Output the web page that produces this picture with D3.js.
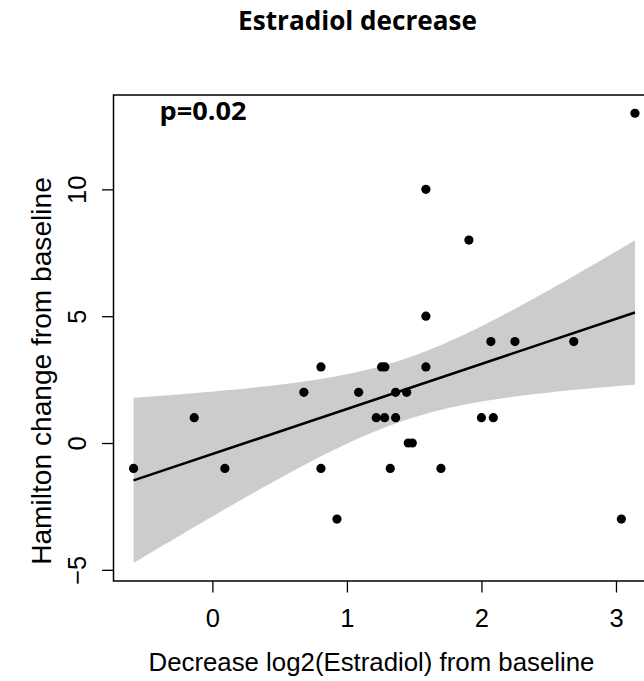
<!DOCTYPE html>
<html>
<head>
<meta charset="utf-8">
<script src="https://cdn.jsdelivr.net/npm/d3@7"></script>
<style>
  html, body { margin: 0; padding: 0; background: #fff; }
  svg { display: block; }
</style>
</head>
<body>
<svg id="chart" width="644" height="681"></svg>
<script>
// ---- data ----
const estradiolDecrease = [-0.586, -0.135, 0.093, 0.680, 0.807, 0.807, 0.926, 1.087, 1.258, 1.282,
  1.218, 1.280, 1.362, 1.362, 1.322, 1.444, 1.456, 1.486, 1.699, 1.587,
  1.587, 1.587, 1.907, 2.000, 2.088, 2.070, 2.249, 2.686, 3.040, 3.141];
const hamiltonChange = [-1, 1, -1, 2, 3, -1, -3, 2, 3, 3,
  1, 1, 2, 1, -1, 2, 0, 0, -1, 3,
  5, 10, 8, 1, 1, 4, 4, 4, -3, 13];
const xTicks = [0, 1, 2, 3];
const yTicks = [-5, 0, 5, 10];
const xDomain = [-0.735, 3.290];
const yDomain = [-5.44, 13.72];
const titleText = "Estradiol decrease";
const pText = "p=0.02";
const xLabel = "Decrease log2(Estradiol) from baseline";
const yLabel = "Hamilton change from baseline";
const tCrit = 2.048; // t(0.975, df = 28)

// ---- layout ----
const plot = { left: 113.5, right: 655, top: 95, bottom: 581 };
const svg = d3.select("#chart");
const x = d3.scaleLinear().domain(xDomain).range([plot.left, plot.right]);
const y = d3.scaleLinear().domain(yDomain).range([plot.bottom, plot.top]);

// ---- linear regression with 95% CI ----
const n = estradiolDecrease.length;
const mx = d3.mean(estradiolDecrease), my = d3.mean(hamiltonChange);
let sxx = 0, sxy = 0;
for (let i = 0; i < n; i++) {
  sxx += (estradiolDecrease[i] - mx) ** 2;
  sxy += (estradiolDecrease[i] - mx) * (hamiltonChange[i] - my);
}
const slope = sxy / sxx, intercept = my - slope * mx;
let sse = 0;
for (let i = 0; i < n; i++) sse += (hamiltonChange[i] - intercept - slope * estradiolDecrease[i]) ** 2;
const s = Math.sqrt(sse / (n - 2));
const [xmin, xmax] = d3.extent(estradiolDecrease);
const grid = d3.range(0, 101).map(k => xmin + (xmax - xmin) * k / 100);
const band = grid.map(v => {
  const fit = intercept + slope * v;
  const se = s * Math.sqrt(1 / n + (v - mx) ** 2 / sxx);
  return { x: v, fit, lo: fit - tCrit * se, hi: fit + tCrit * se };
});

svg.append("path")
  .datum(band)
  .attr("fill", "#cccccc")
  .attr("stroke", "none")
  .attr("d", d3.area().x(d => x(d.x)).y0(d => y(d.lo)).y1(d => y(d.hi)));

svg.append("path")
  .datum([band[0], band[band.length - 1]])
  .attr("fill", "none")
  .attr("stroke", "#000")
  .attr("stroke-width", 2.5)
  .attr("d", d3.line().x(d => x(d.x)).y(d => y(d.fit)));

// ---- points ----
svg.append("g").selectAll("circle")
  .data(estradiolDecrease.map((v, i) => [v, hamiltonChange[i]]))
  .join("circle")
  .attr("cx", d => x(d[0]))
  .attr("cy", d => y(d[1]))
  .attr("r", 4.6)
  .attr("fill", "#000");

// ---- box ----
svg.append("rect")
  .attr("x", plot.left).attr("y", plot.top)
  .attr("width", plot.right - plot.left).attr("height", plot.bottom - plot.top)
  .attr("fill", "none").attr("stroke", "#000").attr("stroke-width", 1.5);

// ---- axes ----
const axisFont = "'Liberation Sans', Arial, Helvetica, sans-serif";
const xAxis = svg.append("g")
  .attr("transform", `translate(0,${plot.bottom})`)
  .call(d3.axisBottom(x).tickValues(xTicks).tickSize(11.5).tickPadding(0).tickFormat(d3.format("d")));
xAxis.select(".domain").remove();
xAxis.selectAll(".tick line").attr("stroke", "#000").attr("stroke-width", 1.3);
xAxis.selectAll(".tick text").attr("y", 0).attr("dy", null)
  .attr("transform", "translate(0,46)")
  .attr("font-family", axisFont).attr("font-size", 25.5).attr("fill", "#000");

const yAxis = svg.append("g")
  .attr("transform", `translate(${plot.left},0)`)
  .call(d3.axisLeft(y).tickValues(yTicks).tickSize(11.5).tickPadding(0)
    .tickFormat(d => d < 0 ? "\u2212" + Math.abs(d) : String(d)));
yAxis.select(".domain").remove();
yAxis.selectAll(".tick line").attr("stroke", "#000").attr("stroke-width", 1.3);
yAxis.selectAll(".tick text")
  .attr("x", null).attr("dy", null)
  .attr("text-anchor", "middle")
  .attr("transform", `translate(${86 - plot.left},0) rotate(-90)`)
  .attr("y", 0)
  .attr("font-family", axisFont).attr("font-size", 25.5).attr("fill", "#000");

// ---- axis titles ----
svg.append("text")
  .attr("x", (147 + 596) / 2).attr("y", 671)
  .attr("text-anchor", "middle")
  .attr("font-family", axisFont).attr("font-size", 25.8).attr("fill", "#000")
  .text(xLabel);

const yl = svg.append("text")
  .attr("transform", `translate(51,${(177 + 565) / 2}) rotate(-90)`)
  .attr("text-anchor", "middle")
  .attr("font-family", axisFont).attr("font-size", 27).attr("fill", "#000")
  .text(yLabel);
{
  const w = yl.node().getComputedTextLength();
  yl.attr("font-size", 27 * 388 / w);
}

// ---- title and p-value (bold, Calibri-like: taller glyphs, narrower set) ----
function fitScaled(sel, cx, baseY, anchor, targetWidth) {
  const w = sel.node().getComputedTextLength();
  const k = targetWidth / w;
  sel.attr("x", 0).attr("y", 0)
    .attr("transform", `translate(${cx},${baseY}) scale(${k},1)`)
    .attr("text-anchor", anchor);
}
const boldFont = "'Open Sans', 'Noto Sans', sans-serif";
const title = svg.append("text")
  .attr("font-family", boldFont).attr("font-weight", "bold").attr("font-size", 27).attr("fill", "#000")
  .text(titleText);
fitScaled(title, 357.5, 29.5, "middle", 239);

const pv = svg.append("text")
  .attr("font-family", boldFont).attr("font-weight", "bold").attr("font-size", 24.5).attr("fill", "#000")
  .text(pText);
fitScaled(pv, 159.5, 120, "start", 87);
</script>
</body>
</html>
